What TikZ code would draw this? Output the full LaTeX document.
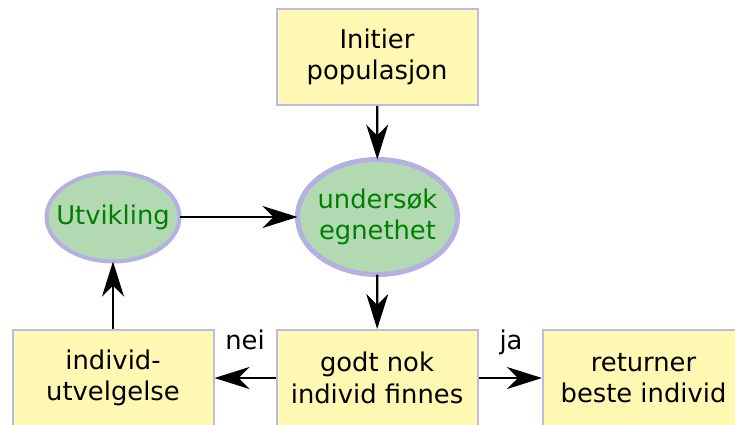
\documentclass[tikz,border=0pt]{standalone}
\usepackage{fontspec}
\setmainfont{DejaVu Sans}
\usetikzlibrary{arrows.meta,shapes.geometric}
\definecolor{boxfill}{RGB}{255,248,178}
\definecolor{boxline}{RGB}{190,186,230}
\definecolor{ovalfill}{RGB}{179,217,179}
\definecolor{ovalline}{RGB}{180,176,225}
\definecolor{ovaltext}{RGB}{0,128,0}
\begin{document}
\begin{tikzpicture}[x=1pt,y=-1pt,
  label font/.style={font=\fontsize{25.8}{31.5}\selectfont},
  stepbox/.style={draw=boxline, fill=boxfill, line width=2pt,
    minimum width=201pt, minimum height=96pt, inner sep=0pt, outer sep=1pt,
    align=center, label font},
  oval/.style={ellipse, draw=ovalline, fill=ovalfill, text=ovaltext,
    inner xsep=-30pt, inner ysep=-20pt, outer sep=0pt, align=center, label font},
  flow/.style={-{Stealth[length=35pt,width=22pt,inset=11pt]}, line width=2.2pt},
  tag/.style={anchor=base, inner sep=0pt, label font}]
\useasboundingbox (0,0) rectangle (735,424);
\clip (0,0) rectangle (735,424);

% process steps
\node[stepbox] (init) at (377,57) {Initier\\populasjon};
\node[oval, line width=5pt, minimum width=160pt, minimum height=115pt]
  (eval) at (377.5,217) {undersøk\\egnethet};
\node[oval, line width=4pt, minimum width=133pt, minimum height=89pt]
  (evo) at (113,217) {Utvikling};
\node[stepbox] (test) at (377,378) {godt nok\\individ finnes};
\node[stepbox] (sel) at (113,378) {individ-\\utvelgelse};
\node[stepbox] (ret) at (643.5,378) {returner\\beste individ};

% connectors
\draw[flow] (init) -- (eval);
\draw[flow] (eval) -- (test);
\draw[flow] (evo) -- (eval);
\draw[flow] (sel) -- (evo);
\draw[flow] (test) -- (sel);
\draw[flow] (test) -- (ret);

% branch labels
\node[tag] (no) at (245,349) {nei};
\node[tag] (yes) at (511,349) {ja};
\end{tikzpicture}
\end{document}
